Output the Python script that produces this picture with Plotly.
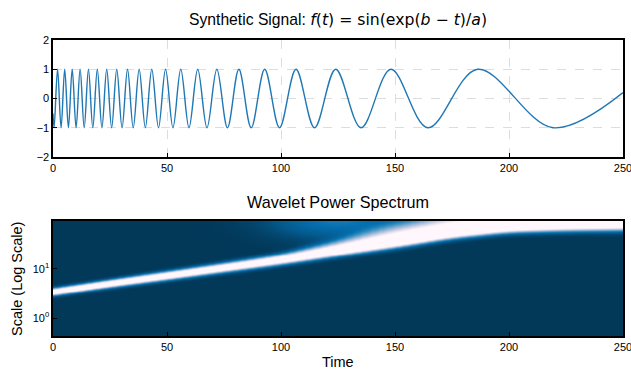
import numpy as np
import plotly.graph_objects as go

# ---------------- data ----------------
# times of the extrema of the synthetic signal (troughs / peaks)
ext_t = [0.49, 2.0, 3.55, 5.13, 6.76, 8.42, 10.13, 11.89, 13.69, 15.55, 17.46, 19.43,
         21.46, 23.56, 25.72, 27.96, 30.29, 32.69, 35.19, 37.79, 40.50, 43.32, 46.28,
         49.37, 52.62, 56.04, 59.65, 63.48, 67.54, 71.87, 76.52, 81.52, 86.93, 92.85,
         99.35, 106.58, 114.71, 124.0, 135.1, 148.2, 164.4, 186.3, 219.3]
ext_v = [-1, 1, -1, 1, -1, 1, -1, 1, -1, 1, -1, 1, -1, 1, -1, 1, -1, 1, -1, 1, -1, 1,
         -1, 1, -1, 1, -1, 1, -1, 1, -1, 1, -1, 1, -1, 1, -1, 1, -1, 1, -1, 1, -1]
start_t, start_v = 0.0, -0.51
end_t, end_v = 250.0, 0.2

x_ticks = [0, 50, 100, 150, 200, 250]
y_ticks_top = [-2, -1, 0, 1, 2]
y_ticks_bottom = [1, 10]
y_ticktext_bottom = ["10<sup>0</sup>", "10<sup>1</sup>"]

# wavelet power ridge (log10 of scale)
ridge_t = [0, 25, 50, 75, 100, 125, 150, 175, 200, 225, 250]
ridge_center = [0.53, 0.70, 0.86, 1.02, 1.18, 1.36, 1.53, 1.72, 1.84, 1.88, 1.90]
ridge_sig_lo = [0.048, 0.05, 0.055, 0.058, 0.062, 0.066, 0.068, 0.07, 0.07, 0.075, 0.08]
ridge_sig_hi = [0.048, 0.05, 0.055, 0.06, 0.07, 0.12, 0.2, 0.25, 0.28, 0.3, 0.3]
halo_t, halo_log, halo_sig_t, halo_sig_log, halo_amp = 125.0, 1.98, 20.0, 0.25, 0.2
smooth_window = 31  # samples of the time grid used to smooth the ridge knots

# ---------------- build traces ----------------
sig_x = [start_t] + ext_t + [end_t]
sig_y = [start_v] + ext_v + [end_v]

time_grid = np.linspace(0, 250, 501)
log_grid = np.linspace(-0.4, 2.0, 241)
T, L = np.meshgrid(time_grid, log_grid)


def ridge_curve(knots):
    raw = np.interp(time_grid, ridge_t, knots)
    pad = smooth_window // 2
    padded = np.concatenate([np.full(pad, raw[0]) + (raw[0] - raw[pad:0:-1]),
                             raw,
                             np.full(pad, raw[-1]) + (raw[-1] - raw[-2:-pad - 2:-1])])
    kernel = np.ones(smooth_window) / smooth_window
    return np.convolve(padded, kernel, mode="valid")[None, :]


c = ridge_curve(ridge_center)
slo = ridge_curve(ridge_sig_lo)
shi = ridge_curve(ridge_sig_hi)
d = L - c
sig = np.where(d < 0, slo, shi)
z = np.exp(-0.5 * (d / sig) ** 2) + halo_amp * np.exp(
    -0.5 * ((T - halo_t) / halo_sig_t) ** 2 - 0.5 * ((L - halo_log) / halo_sig_log) ** 2)

fig = go.Figure()
fig.add_trace(go.Scatter(x=sig_x, y=sig_y, mode="lines",
                         line=dict(color="#1f77b4", width=1.4, shape="spline", smoothing=1),
                         xaxis="x", yaxis="y", showlegend=False, hoverinfo="skip"))
fig.add_trace(go.Heatmap(x=time_grid, y=10 ** log_grid, z=z, colorscale="PuBu_r",
                         zmin=0, zmax=0.7, showscale=False, xaxis="x2", yaxis="y2",
                         hoverinfo="skip"))

FONT = "Liberation Sans, Arial, sans-serif"
axis_common = dict(showline=True, mirror=True, linecolor="black", linewidth=1.6,
                   ticks="inside", ticklen=4, tickwidth=1, tickcolor="black",
                   tickfont=dict(family=FONT, size=11, color="black"),
                   ticklabeloverflow="allow",
                   zeroline=False, automargin=False)

xd = [53 / 631, 623 / 631]
fig.update_layout(
    width=631, height=371,
    margin=dict(l=0, r=0, t=0, b=0),
    paper_bgcolor="white", plot_bgcolor="white",
    font=dict(family=FONT, color="black"),
    hovermode=False,
    xaxis=dict(domain=xd, anchor="y", range=[0, 250], tickvals=x_ticks,
               showgrid=True, gridcolor="#d5d5d5", griddash="dash", gridwidth=0.8,
               **axis_common),
    yaxis=dict(domain=[1 - 157 / 371, 1 - 40 / 371], anchor="x", range=[-2, 2],
               tickvals=y_ticks_top, showgrid=True, gridcolor="#d5d5d5",
               griddash="dash", gridwidth=0.8, **axis_common),
    xaxis2=dict(domain=xd, anchor="y2", range=[0, 250], tickvals=x_ticks,
                showgrid=False, **axis_common),
    yaxis2=dict(domain=[1 - 336.3 / 371, 1 - 220.7 / 371], anchor="x2", type="log",
                range=[-0.366, 1.978], tickvals=y_ticks_bottom,
                ticktext=y_ticktext_bottom, showgrid=False, **axis_common),
    annotations=[
        dict(text='Synthetic Signal: <span style="font-family:DejaVu Sans"><i>f</i>(<i>t</i>) = sin(exp(<i>b</i> − <i>t</i>)/<i>a</i>)</span>',
             x=338 / 631, y=1 - 19 / 371, xref="paper", yref="paper",
             xanchor="center", yanchor="middle", showarrow=False,
             font=dict(family=FONT, size=15.7, color="black")),
        dict(text="Wavelet Power Spectrum", x=338 / 631, y=1 - 202 / 371,
             xref="paper", yref="paper", xanchor="center", yanchor="middle",
             showarrow=False, font=dict(family=FONT, size=16.2, color="black")),
        dict(text="Time", x=338 / 631, y=1 - 362 / 371, xref="paper", yref="paper",
             xanchor="center", yanchor="middle", showarrow=False,
             font=dict(family=FONT, size=14.5, color="black")),
        dict(text="Scale (Log Scale)", x=17 / 631, y=1 - 279 / 371, xref="paper",
             yref="paper", xanchor="center", yanchor="middle", textangle=-90,
             showarrow=False, font=dict(family=FONT, size=14.5, color="black")),
    ],
)

fig.write_html("out.html", config={"displayModeBar": False, "staticPlot": True},
               post_script="document.body.style.margin='0';document.body.style.overflow='hidden';")
